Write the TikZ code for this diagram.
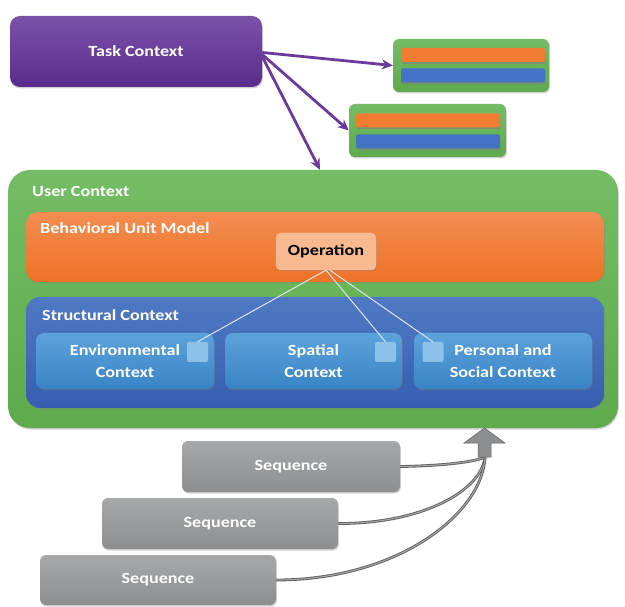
\documentclass[tikz,border=0pt]{standalone}
\usepackage{fontspec}
\setmainfont{Carlito}[FakeStretch=1.17]
\usetikzlibrary{shadows,arrows.meta}
\definecolor{purpT}{HTML}{7C52A8}
\definecolor{purpB}{HTML}{5A2B8D}
\definecolor{purpA}{HTML}{6A3A9E}
\definecolor{grnT}{HTML}{74BD66}
\definecolor{grnB}{HTML}{5EAA4C}
\definecolor{orT}{HTML}{F38D52}
\definecolor{orB}{HTML}{EE7226}
\definecolor{opF}{HTML}{F8B890}
\definecolor{blT}{HTML}{5079C4}
\definecolor{blB}{HTML}{355FAF}
\definecolor{sbT}{HTML}{5CA2DB}
\definecolor{sbB}{HTML}{3A84C6}
\definecolor{sqF}{HTML}{8EC1E8}
\definecolor{gyT}{HTML}{A6A8AA}
\definecolor{gyB}{HTML}{8C8E90}
\definecolor{barO}{HTML}{F07D32}
\definecolor{barB}{HTML}{4472C4}
\definecolor{lineG}{HTML}{5E5F61}
\definecolor{opL}{HTML}{DCE6F0}
\tikzset{
  box/.style={rectangle, rounded corners=#1, inner sep=0pt,
    drop shadow={opacity=0.35, shadow xshift=0.8pt, shadow yshift=-1.5pt}},
  txt/.style={font=\fontsize{15.5}{22}\selectfont\bfseries, text=white, align=center},
  lbl/.style={font=\fontsize{15.5}{22}\selectfont\bfseries, text=white, anchor=west, inner sep=0pt},
  bar/.style={rectangle, rounded corners=2pt, minimum width=144pt, minimum height=14pt, inner sep=0pt,
    drop shadow={opacity=0.6, shadow xshift=0.4pt, shadow yshift=-1.8pt}},
  parr/.style={draw=purpA, line width=2.8pt, -{Stealth[length=11pt,width=10pt]}},
  opline/.style={draw=opL, line width=1pt},
  seqline/.style={draw=lineG, double=gyT, double distance=1pt, line width=0.9pt},
  sq/.style={rectangle, rounded corners=2pt, fill=sqF, minimum width=21pt, minimum height=20pt, inner sep=0pt},
}
\begin{document}
\begin{tikzpicture}[x=1pt,y=-1pt]
\useasboundingbox (0,0) rectangle (625,607);
\fill[white] (0,0) rectangle (625,607);

% Task context
\node[box=10pt, top color=purpT, bottom color=purpB, minimum width=252pt, minimum height=71pt, txt] (task) at (136,51.5) {Task Context};

% small boxes
\node[box=6pt, top color=grnT, bottom color=grnB, minimum width=156pt, minimum height=53pt] (box1) at (471,65.5) {};
\node[bar, fill=barO] (b1o) at (473,55) {};
\node[bar, fill=barB] (b1b) at (473,75.5) {};
\node[box=6pt, top color=grnT, bottom color=grnB, minimum width=157pt, minimum height=53pt] (box2) at (427.5,130.5) {};
\node[bar, fill=barO] (b2o) at (428,120.5) {};
\node[bar, fill=barB] (b2b) at (428,141.5) {};

% User context
\node[box=22pt, top color=grnT, bottom color=grnB, minimum width=610pt, minimum height=258pt] (uc) at (313,299) {};
\node[lbl] (ucl) at (32,191) {User Context};

\node[box=12pt, top color=orT, bottom color=orB, minimum width=578pt, minimum height=70pt] (bum) at (315,247) {};
\node[lbl] (buml) at (40,228) {Behavioral Unit Model};
\node[box=5pt, fill=opF, draw=opF!80!white, minimum width=100pt, minimum height=37pt, txt, text=black] (op) at (326,251.5) {Operation};

\node[box=14pt, top color=blT, bottom color=blB, minimum width=578pt, minimum height=111pt] (sc) at (315,352.5) {};
\node[lbl] (scl) at (42,315) {Structural Context};

\node[box=8pt, top color=sbT, bottom color=sbB, minimum width=178pt, minimum height=56pt, txt] (env) at (125,361) {Environmental\\Context};
\node[box=8pt, top color=sbT, bottom color=sbB, minimum width=177pt, minimum height=56pt, txt] (spa) at (313.5,361) {Spatial\\Context};
\node[box=8pt, top color=sbT, bottom color=sbB, minimum width=178pt, minimum height=56pt, txt] (per) at (503,361) {Personal and\\Social Context};
\node[sq] (sq1) at (197.5,352) {};
\node[sq] (sq2) at (385.5,352) {};
\node[sq] (sq3) at (433,352) {};

\draw[opline] (op.south) -- (sq1.north);
\draw[opline] (op.south) -- (sq2.north);
\draw[opline] ([xshift=4pt]op.south) -- (sq3.north);

% purple arrows
\draw[parr] ([yshift=-1pt]task.east) -- (box1.west);
\draw[parr] ([yshift=-3pt]task.east) -- (box2.west);
\draw[parr] ([yshift=-5pt]task.east) -- ([xshift=7pt]uc.north);

% sequences
\node[box=6pt, top color=gyT, bottom color=gyB, minimum width=218pt, minimum height=51pt, txt] (seq1) at (291,466.5) {Sequence};
\node[box=6pt, top color=gyT, bottom color=gyB, minimum width=236pt, minimum height=51pt, txt] (seq2) at (220,523.5) {Sequence};
\node[box=6pt, top color=gyT, bottom color=gyB, minimum width=236pt, minimum height=50pt, txt] (seq3) at (158,580) {Sequence};

\coordinate (join) at (485,457);
\draw[seqline] (seq1.east) .. controls (440,466) and (476,462) .. (join);
\draw[seqline] (seq2.east) .. controls (420,524) and (481,492) .. (join);
\draw[seqline] (seq3.east) .. controls (400,580) and (483,512) .. (join);

% block arrow
\fill[gyB, draw=lineG, line width=0.5pt] (478,457) -- (478,443) -- (464,443) -- (484.5,428) -- (505,443) -- (491,443) -- (491,457) -- cycle;
\end{tikzpicture}
\end{document}
